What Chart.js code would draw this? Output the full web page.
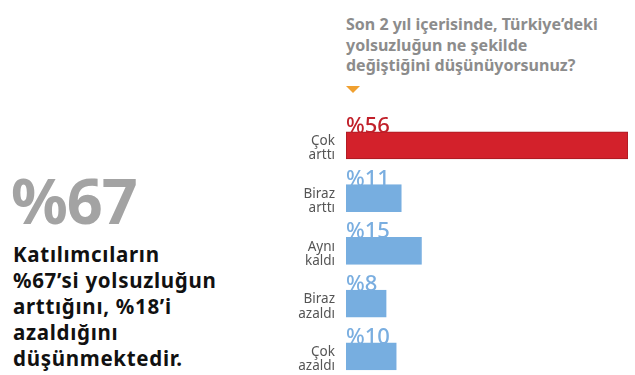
<!DOCTYPE html>
<html>
<head>
<meta charset="utf-8">
<script src="https://cdn.jsdelivr.net/npm/chart.js@4/dist/chart.umd.min.js"></script>
<style>
  html, body { margin: 0; padding: 0; background: #fff; overflow: hidden; }
  body { width: 635px; height: 375px; position: relative; font-family: "Noto Sans", sans-serif; }
  #chart { position: absolute; left: 0; top: 0; }
  .title { position: absolute; left: 346px; top: 14px; width: 285px; font-weight: bold; font-size: 16px; line-height: 20.5px; color: #8c8c8c; }
  .tri { position: absolute; left: 346px; top: 86px; width: 0; height: 0; border-left: 7px solid transparent; border-right: 7px solid transparent; border-top: 7px solid #f0a030; }
  .big { position: absolute; left: 11px; top: 165px; font-weight: bold; font-size: 63px; line-height: 70px; color: #a3a3a3; letter-spacing: -1px; }
  .note { position: absolute; left: 13px; top: 241px; font-weight: bold; font-size: 20.5px; line-height: 26px; color: #111; letter-spacing: 0.7px; }
</style>
</head>
<body>
<div class="title">Son 2 yıl içerisinde, Türkiye’deki<br>yolsuzluğun ne şekilde<br>değiştiğini düşünüyorsunuz?</div>
<div class="tri"></div>
<div class="big">%67</div>
<div class="note">Katılımcıların<br>%67’si yolsuzluğun<br>arttığını, %18’i<br>azaldığını<br>düşünmektedir.</div>
<canvas id="chart" width="635" height="408"></canvas>
<script>
// answers and their share in percent
const categories = [['Çok', 'arttı'], ['Biraz', 'arttı'], ['Aynı', 'kaldı'], ['Biraz', 'azaldı'], ['Çok', 'azaldı']];
const values = [56, 11, 15, 8, 10];

// colours per bar
const barColors = ['#d3212b', '#77aee0', '#77aee0', '#77aee0', '#77aee0'];
const borderColors = ['#a51a22', '#77aee0', '#77aee0', '#77aee0', '#77aee0'];
const labelColors = ['#c1202a', '#7aaee0', '#7aaee0', '#7aaee0', '#7aaee0'];

// draws the %value over the top-left of each bar
const valueLabels = {
    id: 'valueLabels',
    afterDatasetsDraw(chart) {
        const ctx = chart.ctx;
        const meta = chart.getDatasetMeta(0);
        ctx.save();
        ctx.font = '500 22px "Noto Sans", sans-serif';
        ctx.textBaseline = 'alphabetic';
        ctx.textAlign = 'left';
        meta.data.forEach((bar, i) => {
            ctx.fillStyle = labelColors[i];
            ctx.fillText('%' + values[i], bar.base, bar.y - bar.height / 2 + 1);
        });
        ctx.restore();
    }
};

const canvas = document.querySelector('#chart');
new Chart(canvas, {
    type: 'bar',
    data: {
        labels: categories,
        datasets: [{
            data: values,
            backgroundColor: barColors,
            borderColor: borderColors,
            borderWidth: 1,
            borderSkipped: false,
            barThickness: 27
        }]
    },
    options: {
        indexAxis: 'y',
        responsive: false,
        animation: false,
        layout: { padding: { top: 119, right: 7, bottom: 8, left: 0 } },
        plugins: { legend: { display: false }, tooltip: { enabled: false } },
        scales: {
            x: { display: false, min: 0, max: 56 },
            y: {
                grid: { display: false, drawTicks: false },
                border: { display: false },
                ticks: {
                    color: '#555',
                    padding: 11,
                    labelOffset: 3,
                    font: { family: '"Noto Sans", sans-serif', size: 13.5, lineHeight: 1.05 }
                },
                afterFit(scale) { scale.width = 346; }
            }
        }
    },
    plugins: [valueLabels]
});
</script>
</body>
</html>
